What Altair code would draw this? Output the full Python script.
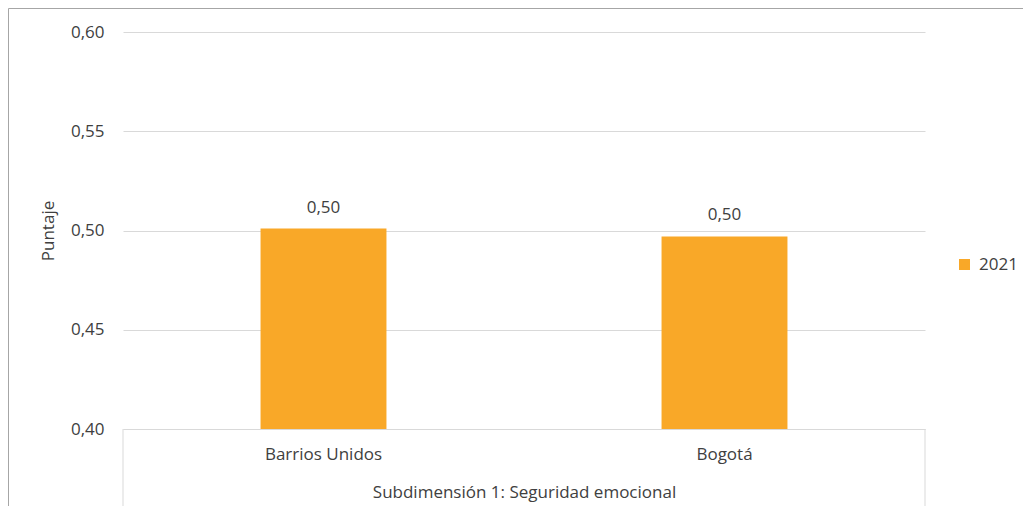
import altair as alt
import pandas as pd

categorias = ["Barrios Unidos", "Bogotá"]
puntajes = [0.501, 0.497]
serie = ["2021", "2021"]
ticks_y = [0.40, 0.45, 0.50, 0.55, 0.60]
titulo_x = "Subdimensión 1: Seguridad emocional"
titulo_y = "Puntaje"

df = pd.DataFrame({"categoria": categorias, "puntaje": puntajes, "serie": serie})
deco = pd.DataFrame({"d": [0]})

W, H = 802, 397
FONT = "Open Sans"
FS = 17
TXT = "#404040"
ORANGE = "#F9A828"
GRID = "#d9d9d9"

x_enc = alt.X(
    "categoria:N",
    sort=categorias,
    scale=alt.Scale(paddingInner=0.686, paddingOuter=0.343),
    axis=alt.Axis(
        title=titulo_x, labelAngle=0, labelFontSize=FS, labelFont=FONT, labelColor=TXT,
        labelPadding=17, ticks=False, tickSize=0, domainColor=GRID, domainWidth=1, grid=False,
        titleFont=FONT, titleFontSize=FS, titleFontWeight="normal", titleColor=TXT,
        titleX=W / 2, titleY=55, titleBaseline="top", titleAlign="center",
    ),
)
y_enc = alt.Y(
    "puntaje:Q",
    scale=alt.Scale(domain=[0.4, 0.6], nice=False, zero=False),
    axis=alt.Axis(
        title=titulo_y, values=ticks_y,
        labelExpr="replace(format(datum.value, '.2f'), '.', ',')",
        labelFontSize=FS, labelFont=FONT, labelColor=TXT, labelPadding=19,
        ticks=False, tickSize=0, domain=False, grid=True, gridColor=GRID, gridWidth=1,
        titleFont=FONT, titleFontSize=17, titleFontWeight="normal", titleColor=TXT,
        titleAngle=270, titleX=-75, titleY=H / 2, titleBaseline="middle", titleAlign="center",
    ),
)

bars = alt.Chart(df).mark_bar(clip=True).encode(
    x=x_enc,
    y=y_enc,
    color=alt.Color(
        "serie:N",
        scale=alt.Scale(domain=["2021"], range=[ORANGE]),
        legend=alt.Legend(
            title=None, orient="none", legendX=833, legendY=224, symbolType="square",
            symbolSize=121, symbolStrokeWidth=0, labelFontSize=FS, labelFont=FONT,
            labelColor=TXT, labelOffset=6, padding=0,
        ),
    ),
)

labels = alt.Chart(df).transform_calculate(
    etiqueta="replace(format(datum.puntaje, '.2f'), '.', ',')"
).mark_text(dy=-16, baseline="alphabetic", fontSize=FS, font=FONT, color=TXT).encode(
    x=alt.X("categoria:N", sort=categorias),
    y="puntaje:Q",
    text="etiqueta:N",
)

left_line = alt.Chart(deco).mark_rule(color=GRID, strokeWidth=1).encode(
    x=alt.value(0), y=alt.value(H), y2=alt.value(H + 120)
)
right_line = alt.Chart(deco).mark_rule(color=GRID, strokeWidth=1).encode(
    x=alt.value(W), y=alt.value(H), y2=alt.value(H + 120)
)
frame = alt.Chart(deco).mark_rect(fillOpacity=0, stroke="#a6a6a6", strokeWidth=1).encode(
    x=alt.value(-114.5), x2=alt.value(W + 200), y=alt.value(-23.5), y2=alt.value(H + 200)
)

chart = alt.layer(frame, bars, labels, left_line, right_line).properties(
    width=W,
    height=H,
    padding={"left": 115, "top": 24, "right": 98, "bottom": 77},
    autosize=alt.AutoSizeParams(type="none"),
    background="white",
).configure_view(stroke="transparent")

chart.save("out.html", embed_options={"renderer": "svg", "actions": False})
